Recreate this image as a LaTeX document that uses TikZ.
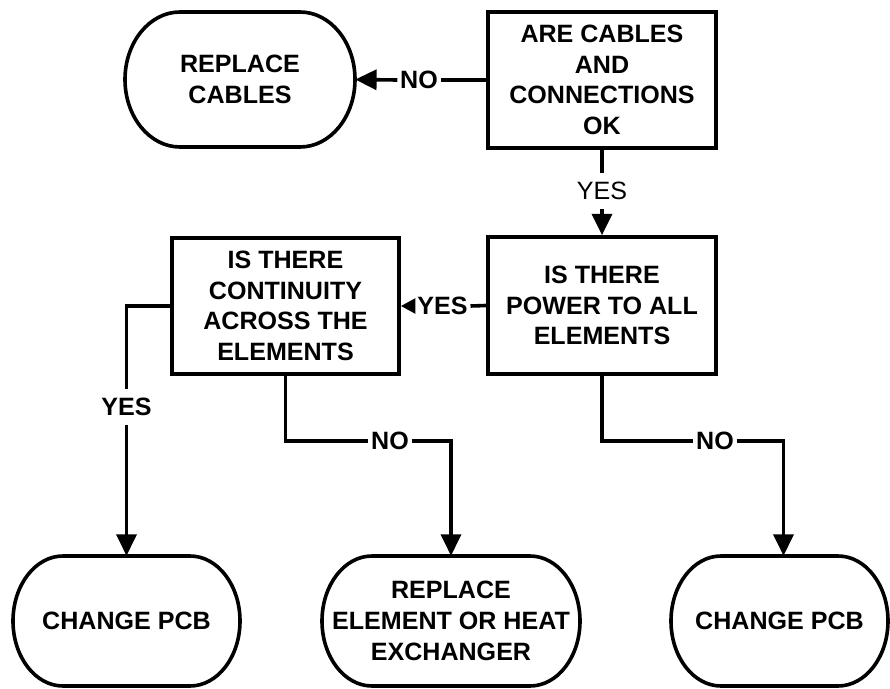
\documentclass[tikz,border=0pt]{standalone}
\usepackage{fontspec}
\setmainfont{Liberation Sans}
\usetikzlibrary{arrows.meta}
\begin{document}
\begin{tikzpicture}[x=0.75pt,y=0.75pt,
  ln/.style={line width=2.7pt},
  txt/.style={font=\bfseries\fontsize{18.8}{23}\selectfont},
  box/.style={draw,ln,rectangle,inner sep=0pt,align=center,txt},
  term/.style={inner sep=0pt,align=center,txt},
  lab/.style={inner xsep=2pt,inner ysep=7pt,txt},
  arr/.style={ln,-{Triangle[length=16pt,width=15pt]}},
  arrs/.style={ln,-{Triangle[length=11pt,width=11pt]}}]
\useasboundingbox (0,0) rectangle (890,-689);

% decision boxes
\node[box,minimum width=171pt,minimum height=102pt] (b1) at (602,-80) {ARE CABLES\\AND\\CONNECTIONS\\OK};
\node[box,minimum width=171pt,minimum height=102.75pt] (b2) at (602,-305.5) {IS THERE\\POWER TO ALL\\ELEMENTS};
\node[box,minimum width=170.25pt,minimum height=102pt] (b3) at (285.5,-306) {IS THERE\\CONTINUITY\\ACROSS THE\\ELEMENTS};

% terminal shapes (text nodes + outlines)
\node[term,minimum width=172.5pt,minimum height=101.25pt] (cab) at (240,-79.5) {REPLACE\\CABLES};
\draw[ln] (180,-12) -- (300,-12) arc[start angle=90,end angle=-90,x radius=41.25pt,y radius=50.625pt]
  -- (180,-147) arc[start angle=270,end angle=90,x radius=41.25pt,y radius=50.625pt] -- cycle;

\node[term,minimum width=170.25pt,minimum height=97.5pt] (ch1) at (126.5,-621) {CHANGE PCB};
\draw[ln] (63,-556) -- (190,-556) arc[start angle=90,end angle=-90,x radius=37.5pt,y radius=48.75pt]
  -- (63,-686) arc[start angle=270,end angle=90,x radius=37.5pt,y radius=48.75pt] -- cycle;

\node[term,minimum width=193.5pt,minimum height=97.5pt] (rep) at (451,-621) {REPLACE\\ELEMENT OR HEAT\\EXCHANGER};
\draw[ln] (372,-556) -- (530,-556) arc[start angle=90,end angle=-90,x radius=37.5pt,y radius=48.75pt]
  -- (372,-686) arc[start angle=270,end angle=90,x radius=37.5pt,y radius=48.75pt] -- cycle;

\node[term,minimum width=162.75pt,minimum height=97.5pt] (ch2) at (779.5,-621) {CHANGE PCB};
\draw[ln] (721,-556) -- (838,-556) arc[start angle=90,end angle=-90,x radius=37.5pt,y radius=48.75pt]
  -- (721,-686) arc[start angle=270,end angle=90,x radius=37.5pt,y radius=48.75pt] -- cycle;

% labels
\node[lab] (no1) at (419,-80) {NO};
\node[lab,font=\fontsize{18.8}{23}\selectfont] (yes1) at (602,-191) {YES};
\node[lab] (yes2) at (442.5,-306) {YES};
\node[lab] (yes3) at (126.5,-407) {YES};
\node[lab] (no2) at (390,-441) {NO};
\node[lab] (no3) at (715,-441) {NO};

% connectors
\draw[ln] (b1.west) -- (no1.east);
\draw[arr] (no1.west) -- (cab.east);
\draw[ln] (b1.south) -- (yes1.north);
\draw[arr] (yes1.south) -- (b2.north);
\draw[ln] (b2.west) -- (yes2.east);
\draw[arrs] (yes2.west) -- (b3.east);
\draw[ln] (b3.west) -| (yes3.north);
\draw[arr] (yes3.south) -- (ch1.north);
\draw[ln] (b3.south) |- (no2.west);
\draw[arr] (no2.east) -| (rep.north);
\draw[ln] (b2.south) |- (no3.west);
\draw[arr] (no3.east) -| ([xshift=3pt]ch2.north);
\end{tikzpicture}
\end{document}
